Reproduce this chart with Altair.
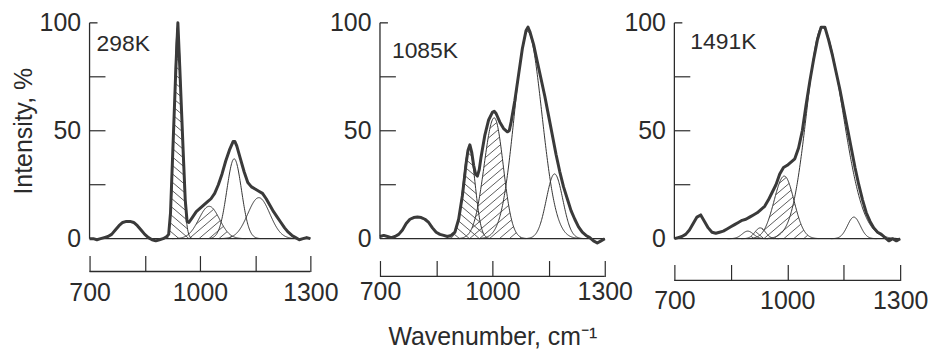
import altair as alt
import numpy as np
import pandas as pd

# ---------------- values ----------------
panel_names = ["298K", "1085K", "1491K"]

# measured spectra (wavenumber, cm-1 / intensity, %)
wn_298 = [700, 710, 720, 730, 740, 750, 760, 770, 780, 790, 800, 810, 820, 830, 840, 850,
          860, 870, 880, 890, 900, 910, 915, 920, 925, 930, 935, 940, 945, 950, 955, 960,
          965, 970, 980, 990, 1000, 1010, 1020, 1030, 1040, 1050, 1060, 1070, 1080, 1090,
          1095, 1100, 1110, 1120, 1130, 1140, 1150, 1160, 1170, 1180, 1190, 1200, 1210,
          1220, 1230, 1240, 1250, 1260, 1270, 1280, 1290, 1300]
int_298 = [0, 0, -0.5, 0, 0.5, 1, 2, 4, 6, 7.5, 8, 8, 7.5, 6, 4, 2,
           0.5, -0.5, -1, -0.5, 0, 1, 2, 12, 35, 58, 81, 100, 80, 59, 38, 18,
           8, 7.5, 10, 12.5, 14, 15.5, 17, 18.5, 21, 25, 30, 36, 41, 45,
           45, 43, 37, 31, 26, 24, 23, 22, 21, 18.5, 15.5, 12.5, 10,
           7.5, 5, 3, 1.5, 0.5, -0.5, 0, 0.5, 0]

wn_1085 = [700, 710, 720, 730, 740, 750, 760, 770, 780, 790, 800, 810, 820, 830, 840, 850,
           860, 870, 880, 890, 900, 910, 920, 930, 935, 940, 945, 950, 955, 960, 965, 970,
           980, 990, 1000, 1005, 1010, 1020, 1030, 1040, 1045, 1050, 1060, 1070, 1080, 1090,
           1095, 1100, 1110, 1120, 1130, 1140, 1150, 1160, 1170, 1180, 1190, 1200, 1210,
           1220, 1230, 1240, 1250, 1260, 1270, 1280, 1290, 1300]
int_1085 = [1, 1.5, 1, 0.5, 1, 2, 4, 7, 9, 9.8, 10, 9.8, 9, 7.5, 5, 3,
            2, 1.5, 1, 1.5, 3, 9, 20, 35, 41, 43.5, 40, 34, 30, 29, 32, 38,
            48, 55, 58.5, 59, 58, 54, 51, 49.5, 50, 54, 64, 76, 88, 96.5,
            98, 96, 90, 82, 74, 66, 57, 48, 39, 31, 24, 18.5, 13,
            9, 5.5, 3, 1.5, 0.5, -1, -2, -1, 0]

wn_1491 = [700, 710, 720, 730, 740, 750, 760, 770, 780, 790, 800, 810, 820, 830, 840, 850,
           860, 870, 880, 890, 900, 910, 920, 930, 940, 950, 960, 970, 980, 990, 1000,
           1010, 1020, 1030, 1040, 1050, 1060, 1070, 1080, 1090, 1100, 1110, 1120, 1130,
           1140, 1150, 1160, 1170, 1180, 1190, 1200, 1210, 1220, 1230, 1240, 1250, 1260,
           1270, 1280, 1290, 1300]
int_1491 = [0, 0.5, 1, 2, 4, 7, 10, 11, 8, 5, 3, 2.5, 3, 3.5, 4.5, 5.5,
            6.5, 7.5, 8.5, 9, 10, 11, 12, 13.5, 15, 18, 21.5, 25, 30, 33, 34,
            35.5, 37, 42, 50, 62, 73, 83, 92, 98, 98, 92, 85, 77,
            69, 60, 51, 42, 33, 25, 18, 12, 8, 5, 3, 2, 0.5,
            -1, 0, -1, 0]

# fitted bands: centre, height, left/right half-width (sigma), shading
band_center_298 = [939, 1025, 1093, 1160]
band_height_298 = [98, 15, 37, 19]
band_sigma_l_298 = [9, 28, 20, 30]
band_sigma_r_298 = [11, 28, 20, 30]
band_shade_298 = ["\\", "/", "", ""]

band_center_1085 = [938, 1005, 1094, 1166]
band_height_1085 = [42, 56, 96, 30]
band_sigma_l_1085 = [16, 27, 35, 22]
band_sigma_r_1085 = [16, 24, 38, 22]
band_shade_1085 = ["\\", "/", "", ""]

band_center_1491 = [895, 928, 992, 1092, 1177]
band_height_1491 = [3.5, 5, 29, 98, 10]
band_sigma_l_1491 = [15, 14, 27, 40, 17]
band_sigma_r_1491 = [15, 14, 26, 55, 17]
band_shade_1491 = ["", "\\", "/", "", ""]

x_tick_values = [700, 850, 1000, 1150, 1300]
y_label_values = [0, 50, 100]
y_minor_ticks = [25, 50, 75]
y_top_tick = [100]

x_title = "Wavenumber, cm\u207b\u00b9"
y_title = "Intensity, %"

# ---------------- layout / style ----------------
INK = "#2b2b2b"
FONT = "Liberation Sans"
H = 217
widths = [222, 226, 227]
x_line_offset = [33, 38, 42]
x_label_pad = [9, 3, 8]
label_pos = [(7, 10), (12, 17), (16, 8)]

spectra = [(wn_298, int_298), (wn_1085, int_1085), (wn_1491, int_1491)]
bands = [
    (band_center_298, band_height_298, band_sigma_l_298, band_sigma_r_298, band_shade_298),
    (band_center_1085, band_height_1085, band_sigma_l_1085, band_sigma_r_1085, band_shade_1085),
    (band_center_1491, band_height_1491, band_sigma_l_1491, band_sigma_r_1491, band_shade_1491),
]


def split_gauss(x, c, h, sl, sr):
    s = np.where(x < c, sl, sr)
    return h * np.exp(-0.5 * ((x - c) / s) ** 2)


def band_curve(c, h, sl, sr):
    w = np.arange(c - 3.6 * sl, c + 3.6 * sr + 0.01, 1.0)
    return w, split_gauss(w, c, h, sl, sr)


def hatch_segments(c, h, sl, sr, kind, W, slope=0.85, step=10.0):
    kx = W / 600.0
    ky = H / 100.0
    sgn = 1.0 if kind == "/" else -1.0
    x_lo = (c - 4 * sl - 700) * kx
    x_hi = (c + 4 * sr - 700) * kx
    X = np.arange(x_lo, x_hi, 0.2)
    G = split_gauss(700 + X / kx, c, h, sl, sr) * ky
    reach = h * ky / slope
    segs = []
    k0 = int(np.floor((x_lo - reach) / step))
    k1 = int(np.ceil((x_hi + reach) / step))
    for k in range(k0, k1 + 1):
        X0 = k * step
        Y = sgn * slope * (X - X0)
        ok = (Y >= 0) & (Y <= G)
        idx = np.flatnonzero(ok)
        if idx.size == 0:
            continue
        br = np.flatnonzero(np.diff(idx) > 1)
        starts = np.r_[idx[0], idx[br + 1]]
        ends = np.r_[idx[br], idx[-1]]
        for a, b in zip(starts, ends):
            if X[b] - X[a] < 0.8:
                continue
            segs.append((700 + X[a] / kx, Y[a] / ky, 700 + X[b] / kx, Y[b] / ky))
    return segs


def make_panel(i):
    W = widths[i]
    wn, inten = spectra[i]
    centers, heights, sls, srs, shades = bands[i]

    xs = alt.Scale(domain=[700, 1300], nice=False, zero=False)
    ys = alt.Scale(domain=[0, 100], nice=False, zero=False)

    meas = pd.DataFrame({"w": wn, "I": inten})

    rows = []
    for j, (c, h, sl, sr) in enumerate(zip(centers, heights, sls, srs)):
        w, g = band_curve(c, h, sl, sr)
        for a, b in zip(w, g):
            rows.append({"band": j, "w": a, "I": b})
    comp = pd.DataFrame(rows)

    hrows = []
    for c, h, sl, sr, sh in zip(centers, heights, sls, srs, shades):
        if sh:
            for (x1, y1, x2, y2) in hatch_segments(c, h, sl, sr, sh, W):
                hrows.append({"w": x1, "I": y1, "w2": x2, "I2": y2})
    hatch = pd.DataFrame(hrows)

    x_axis_kw = dict(
        values=x_tick_values,
        format="d",
        labelExpr="datum.value % 300 == 100 ? datum.label : ''",
        labelFlush=False,
        labelOverlap=False,
        domain=False,
        ticks=True,
        tickSize=16,
        tickWidth=1.2,
        tickColor=INK,
        offset=x_line_offset[i] - 16,
        labelPadding=x_label_pad[i],
        labelFontSize=25,
        labelFont=FONT,
        labelColor=INK,
        grid=False,
        title=(x_title if i == 1 else None),
    )
    if i == 1:
        x_axis_kw.update(titleFontSize=25, titleFontWeight="normal", titlePadding=20,
                         titleFont=FONT, titleColor=INK)
    y_axis_kw = dict(
        values=y_label_values,
        format="d",
        ticks=False,
        tickSize=0,
        domain=False,
        labelPadding=9,
        labelFontSize=25,
        labelFont=FONT,
        labelColor=INK,
        grid=False,
        title=(y_title if i == 0 else None),
    )
    if i == 0:
        y_axis_kw.update(titleFontSize=25, titleFontWeight="normal", titlePadding=3,
                         titleFont=FONT, titleColor=INK)
    xa = alt.Axis(**x_axis_kw)
    ya = alt.Axis(**y_axis_kw)

    layers = []
    if len(hatch):
        layers.append(
            alt.Chart(hatch).mark_rule(color="#4a4a4a", strokeWidth=0.9).encode(
                x=alt.X("w:Q", scale=xs, axis=xa),
                x2="w2:Q",
                y=alt.Y("I:Q", scale=ys, axis=ya),
                y2="I2:Q",
            )
        )
    layers.append(
        alt.Chart(comp).mark_line(color="#333333", strokeWidth=1.0).encode(
            x=alt.X("w:Q", scale=xs, axis=xa),
            y=alt.Y("I:Q", scale=ys, axis=ya),
            detail="band:N",
        )
    )
    # zero baseline
    layers.append(
        alt.Chart(pd.DataFrame({"a": [0]})).mark_rule(color=INK, strokeWidth=1.2).encode(
            x=alt.X(datum=700, scale=xs, axis=xa),
            x2=alt.X2(datum=1300),
            y=alt.Y(datum=0, scale=ys, axis=ya),
        )
    )
    # measured spectrum
    layers.append(
        alt.Chart(meas).mark_line(color="#3a3a3a", strokeWidth=3.0, strokeJoin="round").encode(
            x=alt.X("w:Q", scale=xs, axis=xa),
            y=alt.Y("I:Q", scale=ys, axis=ya),
        )
    )
    # y axis line and inward ticks
    layers.append(
        alt.Chart(pd.DataFrame({"a": [0]})).mark_rule(color=INK, strokeWidth=1.3).encode(
            x=alt.value(0),
            y=alt.Y(datum=0, scale=ys, axis=ya),
            y2=alt.Y2(datum=100),
        )
    )
    layers.append(
        alt.Chart(pd.DataFrame({"v": y_minor_ticks})).mark_rule(color=INK, strokeWidth=1.2).encode(
            x=alt.value(0), x2=alt.value(16),
            y=alt.Y("v:Q", scale=ys, axis=ya),
        )
    )
    layers.append(
        alt.Chart(pd.DataFrame({"v": y_top_tick})).mark_rule(color=INK, strokeWidth=1.3).encode(
            x=alt.value(0), x2=alt.value(8),
            y=alt.Y("v:Q", scale=ys, axis=ya),
        )
    )
    # detached x axis line
    layers.append(
        alt.Chart(pd.DataFrame({"a": [0]})).mark_rule(color=INK, strokeWidth=1.3).encode(
            x=alt.X(datum=700, scale=xs, axis=xa),
            x2=alt.X2(datum=1300),
            y=alt.value(H + x_line_offset[i]),
        )
    )
    # temperature label
    lx, ly = label_pos[i]
    layers.append(
        alt.Chart(pd.DataFrame({"label": [panel_names[i]]})).mark_text(
            align="left", baseline="top", fontSize=23, font=FONT, color=INK
        ).encode(x=alt.value(lx), y=alt.value(ly), text="label:N")
    )
    return alt.layer(*layers).properties(width=W, height=H)


chart = alt.hconcat(
    make_panel(0), make_panel(1), make_panel(2), spacing=70, bounds="flush"
).properties(
    padding={"left": 3, "top": 2, "right": 0, "bottom": 0}
).configure_view(stroke=None).configure_axis(grid=False)

chart.save("out.html", embed_options={"renderer": "svg", "actions": False})
